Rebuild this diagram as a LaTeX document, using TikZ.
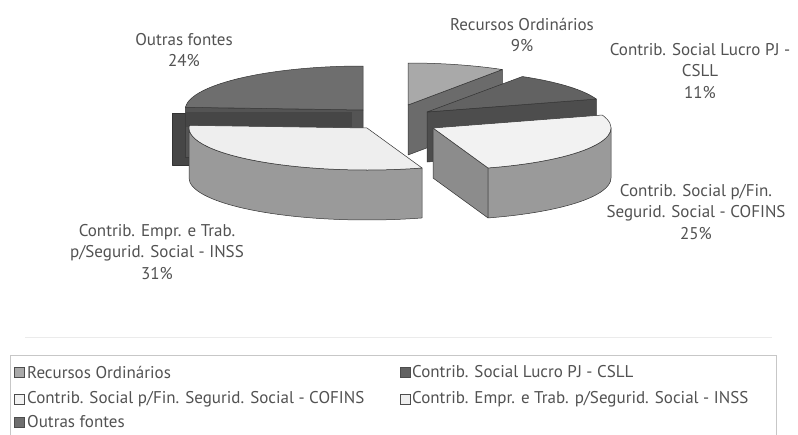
\documentclass[tikz,border=0pt]{standalone}
\usepackage{fontspec}
\setmainfont{PT Sans}
\definecolor{rectop}{HTML}{A9A9A9}
\definecolor{recside}{HTML}{6B6B6B}
\definecolor{csltop}{HTML}{626262}
\definecolor{cslside}{HTML}{4D4D4D}
\definecolor{coftop}{HTML}{F2F2F2}
\definecolor{cofwall}{HTML}{9A9A9A}
\definecolor{cofside}{HTML}{8C8C8C}
\definecolor{insstop}{HTML}{EEEEEE}
\definecolor{outtop}{HTML}{6E6E6E}
\definecolor{outside}{HTML}{545454}
\definecolor{outdark}{HTML}{464646}
\begin{document}
\begin{tikzpicture}[x=1pt,y=-1pt,
    face/.style={draw=black!80,line width=0.5pt,line join=round},
    lbl/.style={align=center,text=black!68,font=\fontsize{17}{21.5}\selectfont},
    leg/.style={anchor=west,text=black!68,inner sep=0pt,font=\fontsize{17}{18}\selectfont},
    swatch/.style={draw=black!70,line width=0.4pt}]
\useasboundingbox (0,0) rectangle (798,434);
\fill[white] (0,0) rectangle (798,434);
% Outras fontes
\draw[face,fill=outdark] (172,113) rectangle (190,165);
\draw[face,fill=outside] (363,110) -- ++(0,50) -- ++(-176.4:178 and 42) -- ++(0,-50) -- cycle;
\fill[outdark] (186,112) rectangle (352,127);
\draw[face,fill=outtop] (363,110) -- ++(-90:178 and 44) arc[start angle=-90,end angle=-176.4,x radius=178,y radius=44] -- cycle;
% Recursos Ordinarios
\draw[face,fill=recside] (408,105) -- ++(0,50) -- ++(-57.6:176 and 42) -- ++(0,-50) -- cycle;
\draw[face,fill=rectop] (408,105) -- ++(-57.6:176 and 42) arc[start angle=-57.6,end angle=-90,x radius=176,y radius=42] -- cycle;
% CSLL
\draw[face,fill=cslside] (427,112) -- ++(0,50) -- ++(-18:178 and 42) -- ++(0,-50) -- cycle;
\draw[face,fill=csltop] (427,112) -- ++(-18:178 and 42) arc[start angle=-18,end angle=-57.6,x radius=178,y radius=42] -- cycle;
% COFINS
\draw[face,fill=cofside] (433,128) -- ++(0,50) -- ++(72:178 and 42) -- ++(0,-50) -- cycle;
\draw[face,fill=cofwall] (433,128) ++(72:178 and 42) arc[start angle=72,end angle=0,x radius=178,y radius=42] -- ++(0,50) arc[start angle=0,end angle=72,x radius=178,y radius=42] -- cycle;
\draw[face,fill=coftop] (433,128) -- ++(72:178 and 42) arc[start angle=72,end angle=-18,x radius=178,y radius=42] -- cycle;
% INSS
\draw[face,fill=cofwall] (367,128) ++(-180:178 and 42) arc[start angle=-180,end angle=-288,x radius=178,y radius=42] -- ++(0,50) arc[start angle=-288,end angle=-180,x radius=178,y radius=42] -- cycle;
\draw[face,fill=insstop] (367,128) -- ++(-176.4:178 and 42) arc[start angle=-176.4,end angle=-288,x radius=178,y radius=42] -- cycle;
% labels
\node[lbl] (outras) at (184,50) {Outras fontes\\24\%};
\node[lbl] (recursos) at (522,35) {Recursos Ordinários\\9\%};
\node[lbl] (csll) at (700,71) {Contrib. Social Lucro PJ -\\CSLL\\11\%};
\node[lbl] (cofins) at (696,212) {Contrib. Social p/Fin.\\Segurid. Social - COFINS\\25\%};
\node[lbl] (inss) at (157,252) {Contrib. Empr. e Trab.\\p/Segurid. Social - INSS\\31\%};
% legend
\draw[black!8] (25,337) -- (772,337);
\draw[black!22] (10,355) rectangle (776,440);
\draw[swatch,fill=rectop] (14,367) rectangle (24,377);
\node[leg] (legrec) at (27,372) {Recursos Ordinários};
\draw[swatch,fill=csltop] (400,367) rectangle (410,377);
\node[leg] (legcsll) at (412,372) {Contrib. Social Lucro PJ - CSLL};
\draw[swatch,fill=coftop] (14,394) rectangle (24,404);
\node[leg] (legcof) at (27,399) {Contrib. Social p/Fin. Segurid. Social - COFINS};
\draw[swatch,fill=insstop] (400,394) rectangle (410,404);
\node[leg] (leginss) at (412,399) {Contrib. Empr. e Trab. p/Segurid. Social - INSS};
\draw[swatch,fill=outtop] (14,417) rectangle (24,427);
\node[leg] (legout) at (27,422) {Outras fontes};
\end{tikzpicture}
\end{document}
